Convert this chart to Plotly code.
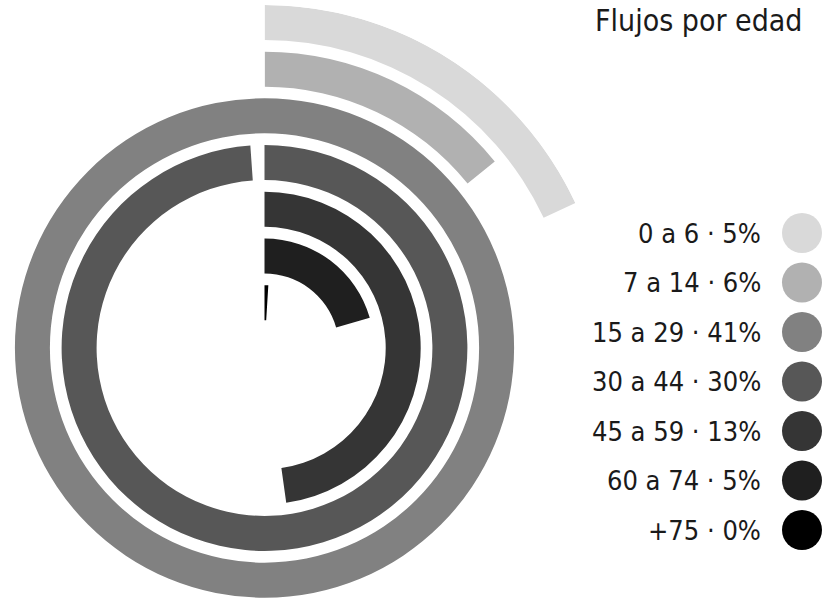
import plotly.graph_objects as go

# ---- data ----
titulo = "Flujos por edad"
grupos = ["0 a 6", "7 a 14", "15 a 29", "30 a 44", "45 a 59", "60 a 74", "+75"]
porcentajes = [5, 6, 41, 30, 13, 5, 0]
arcos = [65, 51, 360, 356, 172, 74, 3.5]  # angular sweep of each ring (degrees)
colores = ["#d9d9d9", "#b1b1b1", "#818181", "#575757", "#353535", "#1f1f1f", "#000000"]

# ---- layout constants ----
W, H = 826, 602
CX, CY = 264.5, 348.0
R_MAX = 343.0
STEP = 46.7
THICK = 35.0
R1 = 252.0  # radius of the full-circle polar

fig = go.Figure()

for i, (g, a, c) in enumerate(zip(grupos, arcos, colores)):
    outer = R_MAX - i * STEP
    sub = "polar2" if outer > R1 else "polar"
    fig.add_trace(go.Barpolar(
        r=[THICK], base=[outer - THICK], theta=[a / 2], width=[a],
        marker=dict(color=c, line=dict(width=0)),
        subplot=sub, hoverinfo="skip", showlegend=False, name=g,
    ))

# legend (circles + labels) on a pixel-like cartesian axis
LEG_X = 802
LEG_Y0 = 233
LEG_DY = 49.5
ys = [LEG_Y0 + i * LEG_DY for i in range(len(grupos))]
fig.add_trace(go.Scatter(
    x=[LEG_X] * len(grupos), y=ys, mode="markers",
    marker=dict(size=40, color=colores, line=dict(width=0)),
    hoverinfo="skip", showlegend=False, xaxis="x", yaxis="y",
))

FONT = "DejaVu Sans Condensed, Liberation Sans Narrow, Roboto, sans-serif"
annotations = []
for g, p, y in zip(grupos, porcentajes, ys):
    annotations.append(dict(
        x=763, y=y, xref="x", yref="y", text=f"{g} · {p}%", showarrow=False,
        xanchor="right", yanchor="middle",
        font=dict(family=FONT, size=27, color="#1a1a1a"),
    ))
annotations.append(dict(
    x=593, y=1, xref="x", yref="y", text=titulo, showarrow=False,
    xanchor="left", yanchor="top",
    font=dict(family=FONT, size=30, color="#1a1a1a"),
))

hidden_ang = dict(visible=False, rotation=90, direction="clockwise", showgrid=False, showline=False, showticklabels=False, ticks="")
hidden_rad = dict(visible=False, showgrid=False, showline=False, showticklabels=False, ticks="")

fig.update_layout(
    width=W, height=H, autosize=False,
    margin=dict(l=0, r=0, t=0, b=0, pad=0),
    paper_bgcolor="white", plot_bgcolor="rgba(0,0,0,0)",
    xaxis=dict(range=[0, W], domain=[0, 1], visible=False, fixedrange=True),
    yaxis=dict(range=[H, 0], domain=[0, 1], visible=False, fixedrange=True),
    polar=dict(
        domain=dict(x=[(CX - R1) / W, (CX + R1) / W], y=[(H - CY - R1) / H, (H - CY + R1) / H]),
        bgcolor="rgba(0,0,0,0)",
        radialaxis=dict(range=[0, R1], **hidden_rad),
        angularaxis=hidden_ang,
    ),
    polar2=dict(
        domain=dict(x=[CX / W, (CX + R_MAX) / W], y=[(H - CY) / H, (H - CY + R_MAX) / H]),
        sector=[0, 90],
        bgcolor="rgba(0,0,0,0)",
        radialaxis=dict(range=[0, R_MAX], **hidden_rad),
        angularaxis=hidden_ang,
    ),
    annotations=annotations,
    showlegend=False,
)

fig.write_html("out.html")
